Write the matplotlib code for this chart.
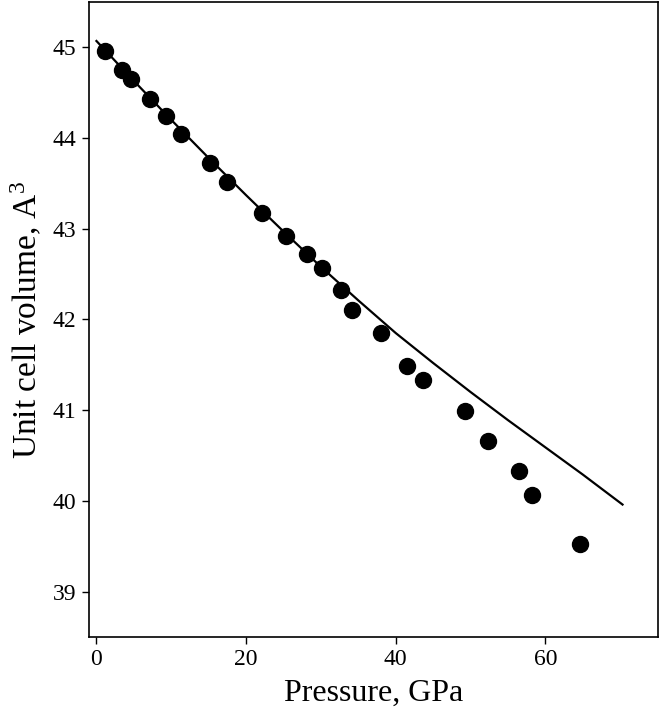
import matplotlib
matplotlib.use("Agg")
import matplotlib.pyplot as plt

plt.rcParams['font.family'] = ['Liberation Serif', 'DejaVu Serif']
plt.rcParams['mathtext.fontset'] = 'custom'
plt.rcParams['mathtext.rm'] = 'Liberation Serif'
plt.rcParams['mathtext.it'] = 'Liberation Serif:italic'

# Experimental points
pressure = [1.1, 3.4, 4.6, 7.1, 9.3, 11.3, 15.2, 17.5, 22.1, 25.3, 28.1, 30.1,
            32.7, 34.1, 38.0, 41.5, 43.6, 49.2, 52.3, 56.5, 58.2, 64.6]
volume = [44.96, 44.75, 44.65, 44.43, 44.24, 44.05, 43.73, 43.52, 43.17, 42.92,
          42.72, 42.57, 42.33, 42.11, 41.85, 41.49, 41.33, 40.99, 40.66, 40.33,
          40.06, 39.52]

# Fitted curve
curve_p = [0, 5, 10, 15, 20, 25, 30, 35, 40, 45, 50, 55, 60, 65, 70.3]
curve_v = [45.07, 44.63, 44.20, 43.78, 43.37, 42.97, 42.58, 42.21, 41.85,
           41.52, 41.20, 40.89, 40.59, 40.29, 39.96]

xticks = [0, 20, 40, 60]
yticks = [39, 40, 41, 42, 43, 44, 45]

fig = plt.figure(figsize=(6.6, 7.08), dpi=100)
ax = fig.add_axes([0.1348, 0.1003, 0.8617, 0.8969])

ax.plot(curve_p, curve_v, color='black', lw=1.6, zorder=2)
ax.plot(pressure, volume, 'o', color='black', ms=11.5, zorder=3)

ax.set_xlim(-1, 75)
ax.set_ylim(38.5, 45.5)
ax.set_xticks(xticks)
ax.set_yticks(yticks)
ax.tick_params(axis='both', labelsize=17, direction='out', length=5, width=1,
               top=False, right=False, pad=4)
for s in ax.spines.values():
    s.set_linewidth(1.2)

ax.set_xlabel('Pressure, GPa', fontsize=23, labelpad=6)
ax.set_ylabel('Unit cell volume, A$^{3}$', fontsize=24, labelpad=6)

fig.savefig('out.png', dpi=100)
